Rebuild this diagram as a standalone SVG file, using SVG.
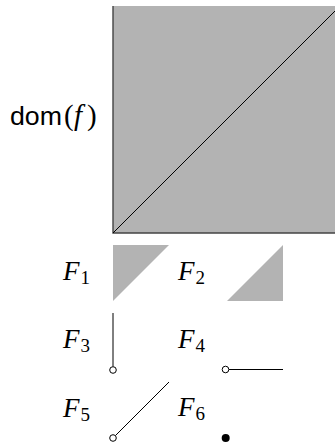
<svg xmlns="http://www.w3.org/2000/svg" width="335" height="443" viewBox="0 0 335 443">
<style>
.fill{fill:#b3b3b3;stroke:none}
.ln{stroke:#000;stroke-width:1;fill:none}
.edge{stroke:#444;stroke-width:1.4;fill:none}
.lbl{font-family:"Liberation Serif",serif;font-style:italic;font-size:27px;fill:#000}
.sub{font-family:"Liberation Serif",serif;font-style:normal;font-size:19px}
.open{fill:#fff;stroke:#000;stroke-width:1}
.serif{font-family:"Liberation Serif",serif;font-size:29px;fill:#000}
</style>
<g id="domain">
<rect class="fill" x="113" y="6" width="227" height="227"/>
<path class="edge" d="M113,6 V233 H340"/>
<line class="ln" x1="113" y1="233" x2="340" y2="6"/>
<text x="10" y="125" font-family="Liberation Sans, sans-serif" font-size="26" fill="#000" textLength="52" lengthAdjust="spacingAndGlyphs">dom</text>
<text class="serif" x="64" y="125">(</text>
<text class="serif" x="74" y="125" font-style="italic">f</text>
<text class="serif" x="87" y="125">)</text>
</g>
<g id="F1">
<text class="lbl" x="63" y="280">F<tspan class="sub" dx="1" dy="4">1</tspan></text>
<polygon class="fill" points="113,245 169,245 113,301"/>
</g>
<g id="F2">
<text class="lbl" x="178" y="280">F<tspan class="sub" dx="1" dy="4">2</tspan></text>
<polygon class="fill" points="227,301 283,301 283,245"/>
</g>
<g id="F3">
<text class="lbl" x="63" y="348">F<tspan class="sub" dx="1" dy="4">3</tspan></text>
<line class="ln" x1="113" y1="313" x2="113" y2="366.5"/>
<circle class="open" cx="113" cy="370" r="3.3"/>
</g>
<g id="F4">
<text class="lbl" x="178" y="348">F<tspan class="sub" dx="1" dy="4">4</tspan></text>
<line class="ln" x1="229" y1="369.5" x2="283" y2="369.5"/>
<circle class="open" cx="225.5" cy="369.5" r="3.3"/>
</g>
<g id="F5">
<text class="lbl" x="63" y="417">F<tspan class="sub" dx="1" dy="4">5</tspan></text>
<line class="ln" x1="115.5" y1="435.5" x2="169" y2="382"/>
<circle class="open" cx="113" cy="438" r="3.3"/>
</g>
<g id="F6">
<text class="lbl" x="178" y="416">F<tspan class="sub" dx="1" dy="4">6</tspan></text>
<circle cx="225.7" cy="438" r="4" fill="#000"/>
</g>
</svg>
